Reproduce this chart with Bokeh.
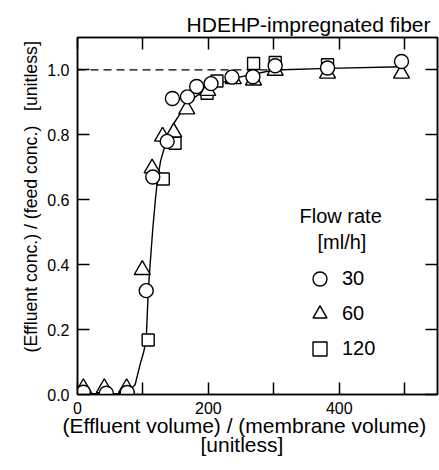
from bokeh.plotting import figure
from bokeh.models import (Range1d, LinearAxis, FixedTicker, NumeralTickFormatter,
                          CustomJSTickFormatter, Label, Legend, LegendItem, Title)
from bokeh.embed import file_html
from bokeh.resources import INLINE

# ---- data ----
x30 = [9, 44, 76, 105, 115, 137, 145, 168, 182, 204, 236, 268, 302, 382, 495]
y30 = [0.007, 0.004, 0.006, 0.32, 0.67, 0.78, 0.912, 0.917, 0.949, 0.958, 0.978, 0.979, 1.013, 1.006, 1.026]

x60 = [9, 41, 75, 99, 114, 130, 147, 167, 199, 238, 269, 302, 382, 495]
y60 = [0.02, 0.02, 0.02, 0.384, 0.697, 0.795, 0.808, 0.879, 0.936, 0.972, 0.968, 0.998, 0.989, 0.989]

x120 = [108, 131, 149, 198, 213, 269, 302, 382]
y120 = [0.168, 0.664, 0.774, 0.928, 0.966, 1.02, 1.023, 1.016]

xfit = [9, 44, 76, 88, 96, 101, 105, 107.5, 109.5, 112, 115, 119, 122, 127, 132, 140, 147, 160, 175, 200, 240, 300, 384, 495]
yfit = [0.005, 0.0, 0.005, 0.03, 0.095, 0.13, 0.17, 0.29, 0.36, 0.43, 0.51, 0.6, 0.66, 0.72, 0.755, 0.80, 0.835, 0.875, 0.91, 0.945, 0.975, 1.0, 1.005, 1.01]

x_ref = [0, 300]
y_ref = [1.0, 1.0]

xticks = [0, 100, 200, 300, 400, 500]
yticks = [0.0, 0.2, 0.4, 0.6, 0.8, 1.0]
x_hidden_labels = {100: "", 300: "", 500: ""}

flow_labels = ["30", "60", "120"]
title_text = "HDEHP-impregnated fiber"
xlabel_lines = ["(Effluent volume) / (membrane volume)", "[unitless]"]
ylabel_text = "(Effluent conc.) / (feed conc.)\u00a0\u00a0\u00a0[unitless]"
legend_title_lines = ["Flow rate", "[ml/h]"]

FONT = "Liberation Sans"

p = figure(width=439, height=470, output_backend="svg", toolbar_location=None,
           x_range=Range1d(0, 550), y_range=Range1d(0, 1.1),
           min_border_left=77, min_border_right=2, min_border_top=37, min_border_bottom=76,
           background_fill_color="white", border_fill_color="white")
p.xgrid.visible = False
p.ygrid.visible = False
p.outline_line_color = "black"
p.outline_line_width = 1.5

# title (top right)
p.title.text = title_text
p.title.align = "right"
p.title.offset = 7
p.title.standoff = 4
p.title.text_font = FONT
p.title.text_font_size = "21px"
p.title.text_font_style = "normal"
p.title.text_color = "black"

def style_axis(ax, show_labels):
    ax.axis_line_color = "black"
    ax.axis_line_width = 1.5
    ax.major_tick_line_color = "black"
    ax.major_tick_line_width = 1.5
    ax.major_tick_in = 12
    ax.major_tick_out = 0
    ax.minor_tick_line_color = None
    ax.major_label_text_font = FONT
    ax.major_label_text_color = "black"
    ax.major_label_text_font_size = "16px"
    if show_labels:
        ax.major_label_standoff = 8
    else:
        ax.formatter = CustomJSTickFormatter(code="return ''")
        ax.major_label_standoff = 0

# bottom
xb = p.xaxis[0]
xb.ticker = FixedTicker(ticks=xticks)
xb.major_label_overrides = x_hidden_labels
style_axis(xb, True)
xb.major_label_standoff = 7
# left
yl = p.yaxis[0]
yl.ticker = FixedTicker(ticks=yticks)
yl.formatter = NumeralTickFormatter(format="0.0")
style_axis(yl, True)
# top
xt = LinearAxis(ticker=FixedTicker(ticks=xticks))
style_axis(xt, False)
p.add_layout(xt, "above")
# right
yr = LinearAxis(ticker=FixedTicker(ticks=yticks))
style_axis(yr, False)
p.add_layout(yr, "right")

# axis titles as side titles
def side_title(text, side, align, offset, standoff, size):
    t = Title(text=text, align=align, offset=offset, standoff=standoff,
              text_font=FONT, text_font_size=size, text_font_style="normal",
              text_color="black")
    p.add_layout(t, side)

side_title(xlabel_lines[0], "below", "left", -15, -10, "21px")
side_title(xlabel_lines[1], "below", "left", 123, -1, "21px")
side_title(ylabel_text, "left", "left", 42, 8, "17.7px")

# reference line and fit
p.line(x_ref, y_ref, line_color="black", line_width=1.3, line_dash="8 5")
p.line(xfit, yfit, line_color="black", line_width=1.4)

r120 = p.scatter(x120, y120, marker="square", size=12, fill_color="white",
                 line_color="black", line_width=1.4)
r60 = p.scatter(x60, y60, marker="triangle", size=16, fill_color="white",
                line_color="black", line_width=1.4)
r30 = p.scatter(x30, y30, marker="circle", size=14, fill_color="white",
                line_color="black", line_width=1.4)

legend = Legend(items=[LegendItem(label=flow_labels[0], renderers=[r30]),
                       LegendItem(label=flow_labels[1], renderers=[r60]),
                       LegendItem(label=flow_labels[2], renderers=[r120])],
                location=(225, 28), orientation="vertical",
                border_line_color=None, background_fill_alpha=0,
                padding=0, margin=0, spacing=0,
                glyph_width=35, glyph_height=35, label_standoff=5,
                label_text_font=FONT, label_text_font_size="20px",
                label_text_color="black")
p.add_layout(legend)

def txt(x, y, s, size, align="center"):
    p.add_layout(Label(x=x, y=y, text=s, text_font=FONT, text_font_size=size,
                       text_color="black", text_align=align, text_baseline="alphabetic"))

txt(402, 0.55, legend_title_lines[0], "20px")
txt(404, 0.47, legend_title_lines[1], "20px")

open("out.html", "w").write(file_html(p, INLINE))
